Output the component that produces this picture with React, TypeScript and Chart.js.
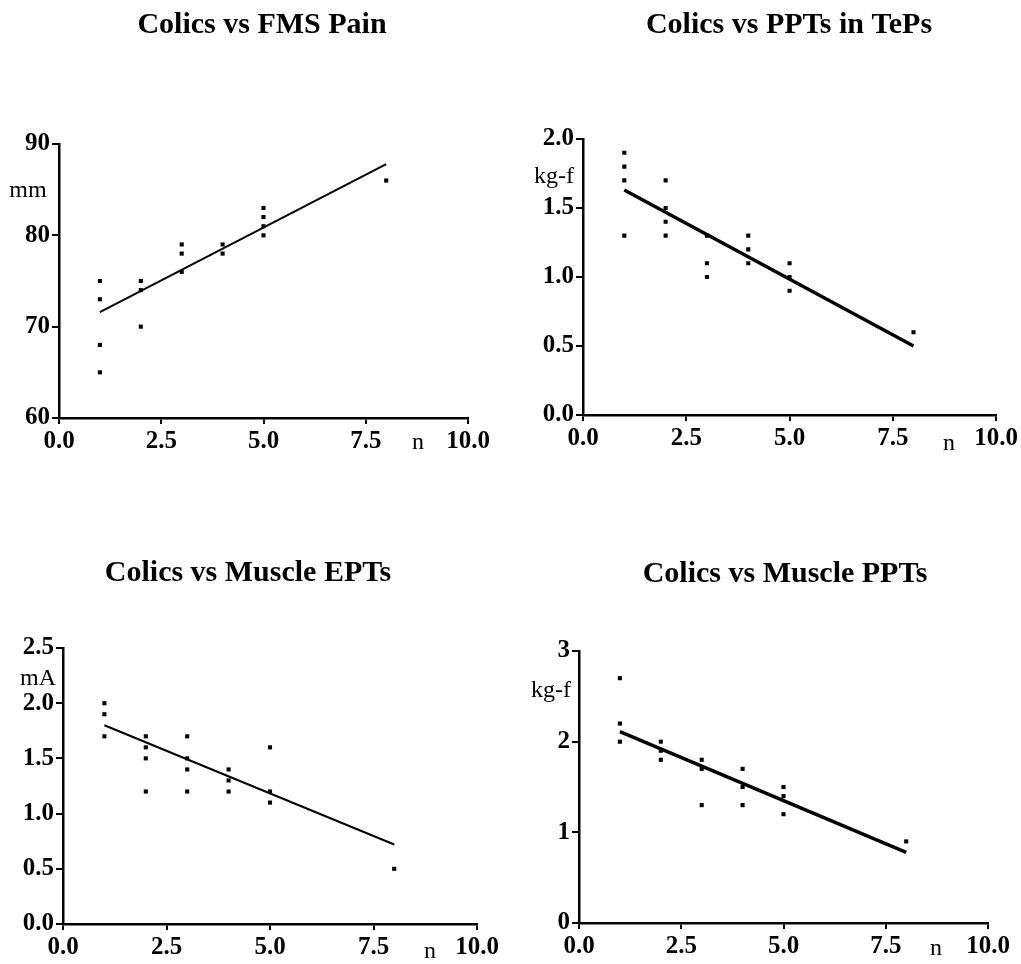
import React, { useEffect, useRef } from "react";
import { Chart, registerables } from "chart.js";

Chart.register(...registerables);

// ---- data ----
const fmsX = [1, 1, 1, 1, 2, 2, 2, 3, 3, 3, 4, 4, 5, 5, 5, 5, 8];
const fmsY = [75, 73, 68, 65, 75, 74, 70, 79, 78, 76, 79, 78, 83, 82, 81, 80, 86];
const fmsFitX = [1, 8];
const fmsFitY = [71.6, 87.8];

const tepX = [1, 1, 1, 1, 2, 2, 2, 2, 3, 3, 3, 4, 4, 4, 5, 5, 5, 8];
const tepY = [1.9, 1.8, 1.7, 1.3, 1.7, 1.5, 1.4, 1.3, 1.3, 1.1, 1.0, 1.3, 1.2, 1.1, 1.1, 1.0, 0.9, 0.6];
const tepFitX = [1, 8];
const tepFitY = [1.63, 0.5];

const eptX = [1, 1, 1, 2, 2, 2, 2, 3, 3, 3, 3, 4, 4, 4, 5, 5, 5, 8];
const eptY = [2.0, 1.9, 1.7, 1.7, 1.6, 1.5, 1.2, 1.7, 1.5, 1.4, 1.2, 1.4, 1.3, 1.2, 1.6, 1.2, 1.1, 0.5];
const eptFitX = [1, 8];
const eptFitY = [1.8, 0.72];

const mppX = [1, 1, 1, 2, 2, 2, 3, 3, 3, 4, 4, 4, 5, 5, 5, 8];
const mppY = [2.7, 2.2, 2.0, 2.0, 1.9, 1.8, 1.8, 1.7, 1.3, 1.7, 1.5, 1.3, 1.5, 1.4, 1.2, 0.9];
const mppFitX = [1, 8];
const mppFitY = [2.11, 0.78];

const titles = ["Colics vs FMS Pain", "Colics vs PPTs in TePs", "Colics vs Muscle EPTs", "Colics vs Muscle PPTs"];
const yUnits = ["mm", "kg-f", "mA", "kg-f"];
const xUnit = "n";
const xTickStep = 2.5;
const xRange = [0, 10];
const yRanges = [[60, 90, 10, 0], [0, 2, 0.5, 1], [0, 2.5, 0.5, 1], [0, 3, 1, 0]];

const zip = (xs: number[], ys: number[]) => xs.map((x, i) => ({ x, y: ys[i] }));

const panels = [
  {
    pts: zip(fmsX, fmsY), fit: zip(fmsFitX, fmsFitY), lw: 2,
    box: { left: 0, top: 0, w: 510, h: 482 }, pad: { left: 9, top: 144, right: 42, bottom: 24 },
    titlePos: [262, 33], yUnitPos: [28, 197], xUnitPos: [418, 449],
  },
  {
    pts: zip(tepX, tepY), fit: zip(tepFitX, tepFitY), lw: 3.5,
    box: { left: 510, top: 0, w: 511, h: 482 }, pad: { left: 23, top: 139, right: 23, bottom: 27 },
    titlePos: [279, 33], yUnitPos: [44, 183], xUnitPos: [439, 450],
  },
  {
    pts: zip(eptX, eptY), fit: zip(eptFitX, eptFitY), lw: 2,
    box: { left: 0, top: 482, w: 510, h: 482 }, pad: { left: 13, top: 166, right: 33, bottom: 0 },
    titlePos: [248, 99], yUnitPos: [38, 203], xUnitPos: [430, 476],
  },
  {
    pts: zip(mppX, mppY), fit: zip(mppFitX, mppFitY), lw: 3.5,
    box: { left: 510, top: 482, w: 511, h: 482 }, pad: { left: 19, top: 169, right: 33, bottom: 1 },
    titlePos: [275, 100], yUnitPos: [41, 215], xUnitPos: [426, 473],
  },
];

const SERIF = '"Liberation Serif", "Times New Roman", serif';

function Panel({ idx }: { idx: number }) {
  const ref = useRef<HTMLCanvasElement | null>(null);
  const p = panels[idx];
  useEffect(() => {
    if (!ref.current) return;
    const [yMin, yMax, yStep, yDec] = yRanges[idx];
    const textPlugin = {
      id: "panelText",
      afterDraw(chart: any) {
        const ctx = chart.ctx;
        ctx.save();
        ctx.fillStyle = "#000";
        ctx.textBaseline = "alphabetic";
        ctx.textAlign = "center";
        ctx.font = `bold 30px ${SERIF}`;
        ctx.fillText(titles[idx], p.titlePos[0], p.titlePos[1]);
        ctx.font = `24px ${SERIF}`;
        ctx.fillText(yUnits[idx], p.yUnitPos[0], p.yUnitPos[1]);
        ctx.fillText(xUnit, p.xUnitPos[0], p.xUnitPos[1]);
        ctx.restore();
      },
    };
    const tickFont = { family: SERIF, size: 25, weight: "bold" as const };
    const chart = new Chart(ref.current, {
      type: "scatter",
      data: {
        datasets: [
          {
            data: p.pts,
            pointStyle: "rect",
            pointRadius: 2.9,
            pointHoverRadius: 2.9,
            backgroundColor: "#000",
            borderWidth: 0,
          },
          {
            data: p.fit,
            showLine: true,
            pointRadius: 0,
            borderColor: "#000",
            borderWidth: p.lw,
            fill: false,
          },
        ],
      },
      options: {
        animation: false,
        responsive: false,
        events: [],
        layout: { padding: p.pad },
        plugins: { legend: { display: false }, tooltip: { enabled: false }, title: { display: false } },
        scales: {
          x: {
            type: "linear",
            min: xRange[0],
            max: xRange[1],
            afterFit: (s: any) => { s.height = 40; },
            ticks: {
              stepSize: xTickStep,
              autoSkip: false,
              maxRotation: 0,
              padding: 3,
              color: "#000",
              font: tickFont,
              callback: (v: any) => Number(v).toFixed(1),
            },
            grid: { display: true, drawOnChartArea: false, drawTicks: true, tickLength: 6, color: "#000", lineWidth: 2 },
            border: { display: true, color: "#000", width: 2.5 },
          },
          y: {
            type: "linear",
            min: yMin,
            max: yMax,
            afterFit: (s: any) => { s.width = 50; },
            ticks: {
              stepSize: yStep,
              autoSkip: false,
              padding: 2,
              color: "#000",
              font: tickFont,
              callback: (v: any) => Number(v).toFixed(yDec),
            },
            grid: { display: true, drawOnChartArea: false, drawTicks: true, tickLength: 7, color: "#000", lineWidth: 2 },
            border: { display: true, color: "#000", width: 2.5 },
          },
        },
      },
      plugins: [textPlugin],
    });
    return () => chart.destroy();
  }, [idx]);
  return (
    <canvas
      ref={ref}
      width={p.box.w}
      height={p.box.h}
      style={{ position: "absolute", left: p.box.left, top: p.box.top, width: p.box.w, height: p.box.h }}
    />
  );
}

export default function App() {
  return (
    <div style={{ position: "absolute", left: 0, top: 0, width: 1021, height: 964, background: "#fff", overflow: "hidden" }}>
      {panels.map((_, i) => (
        <Panel key={i} idx={i} />
      ))}
    </div>
  );
}
